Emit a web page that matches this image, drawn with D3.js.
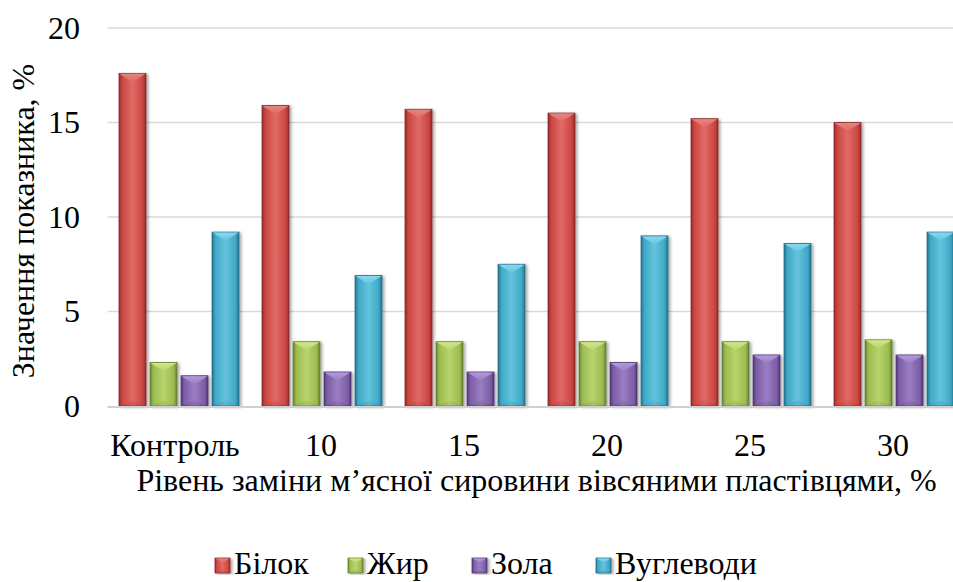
<!DOCTYPE html>
<html>
<head>
<meta charset="utf-8">
<script src="https://cdn.jsdelivr.net/npm/d3@7"></script>
<style>
  html, body { margin: 0; padding: 0; background: #fff; }
  svg { display: block; }
</style>
</head>
<body>
<svg id="chart" width="953" height="582"></svg>
<script>
// Composition of the product by replacement level
const categories = ["Контроль", "10", "15", "20", "25", "30"];
const seriesNames = ["Білок", "Жир", "Зола", "Вуглеводи"];
const protein = [17.6, 15.9, 15.7, 15.5, 15.2, 15.0];
const fat     = [2.3, 3.4, 3.4, 3.4, 3.4, 3.5];
const ash     = [1.6, 1.8, 1.8, 2.3, 2.7, 2.7];
const carbs   = [9.2, 6.9, 7.5, 9.0, 8.6, 9.2];
const yTicks  = [0, 5, 10, 15, 20];
const seriesValues = [protein, fat, ash, carbs];
const colors = {
  "Білок":     { base: "#cc4642", light: "#e06a66", dark: "#8f2b28", top: "#e58a86" },
  "Жир":       { base: "#9bbb4f", light: "#b8d46e", dark: "#66802f", top: "#d4ea8c" },
  "Зола":      { base: "#7d5ea6", light: "#9a7dc2", dark: "#4f3673", top: "#b79ee0" },
  "Вуглеводи": { base: "#3fa8c7", light: "#64c3dd", dark: "#22708a", top: "#8fdcf0" }
};
const FONT = "'Liberation Serif', 'Times New Roman', 'DejaVu Serif', serif";
const FONT_SIZE = "32px";

const svg = d3.select("#chart");
const margin = { left: 107.5, right: -12.5, top: 28, bottom: 176 };
const W = 953, H = 582;
const plotRight = W - margin.right;
const plotBottom = H - margin.bottom;

function label(sel) {
  return sel.attr("fill", "#000")
    .style("font-family", FONT).style("font-size", FONT_SIZE);
}

const x0 = d3.scaleBand().domain(categories)
  .range([margin.left, plotRight]).paddingInner(0.161).paddingOuter(0.0805);
const x1 = d3.scaleBand().domain(seriesNames)
  .range([0, x0.bandwidth()]).paddingInner(0.13);
const y = d3.scaleLinear().domain([0, 20]).range([plotBottom, margin.top]);

// gradients for the bevelled bars
const defs = svg.append("defs");
seriesNames.forEach((s, i) => {
  const c = colors[s];
  const g = defs.append("linearGradient").attr("id", "grad" + i)
    .attr("x1", "0").attr("x2", "1").attr("y1", "0").attr("y2", "0");
  g.append("stop").attr("offset", "0%").attr("stop-color", c.dark);
  g.append("stop").attr("offset", "12%").attr("stop-color", c.base);
  g.append("stop").attr("offset", "50%").attr("stop-color", c.light);
  g.append("stop").attr("offset", "88%").attr("stop-color", c.base);
  g.append("stop").attr("offset", "100%").attr("stop-color", c.dark);
  const t = defs.append("linearGradient").attr("id", "top" + i)
    .attr("x1", "0").attr("x2", "0").attr("y1", "0").attr("y2", "1");
  t.append("stop").attr("offset", "0%").attr("stop-color", c.top);
  t.append("stop").attr("offset", "100%").attr("stop-color", c.light);
});
const shadow = defs.append("filter").attr("id", "shadow")
  .attr("x", "-20%").attr("y", "-5%").attr("width", "150%").attr("height", "115%");
shadow.append("feGaussianBlur").attr("in", "SourceAlpha").attr("stdDeviation", 1.5);
shadow.append("feOffset").attr("dx", 1.5).attr("dy", 1).attr("result", "off");
shadow.append("feComponentTransfer").append("feFuncA").attr("type", "linear").attr("slope", 0.35);
const merge = shadow.append("feMerge");
merge.append("feMergeNode");
merge.append("feMergeNode").attr("in", "SourceGraphic");

// gridlines
svg.append("g").selectAll("line").data(yTicks.filter(d => d > 0)).join("line")
  .attr("x1", margin.left).attr("x2", plotRight)
  .attr("y1", d => y(d)).attr("y2", d => y(d))
  .attr("stroke", "#d9d9d9").attr("stroke-width", 1.5);

// y tick labels
label(svg.append("g").selectAll("text").data(yTicks).join("text"))
  .attr("x", 80).attr("y", d => y(d)).attr("dy", "0.34em")
  .attr("text-anchor", "end")
  .text(d => d);

// bars
function drawBar(g, x, yTop, w, h, i) {
  g.append("rect").attr("x", x).attr("y", yTop).attr("width", w).attr("height", h)
    .attr("fill", `url(#grad${i})`).attr("stroke", colors[seriesNames[i]].dark)
    .attr("stroke-width", 0.8).attr("filter", "url(#shadow)");
  const bev = Math.min(w * 0.32, h * 0.5);
  g.append("path")
    .attr("d", `M${x + 0.5},${yTop + 0.5} L${x + w - 0.5},${yTop + 0.5} L${x + w / 2},${yTop + bev} Z`)
    .attr("fill", `url(#top${i})`).attr("opacity", 0.9);
  g.append("path")
    .attr("d", `M${x + 0.5},${yTop + h - 0.5} L${x + w - 0.5},${yTop + h - 0.5} L${x + w / 2},${yTop + h - bev * 0.6} Z`)
    .attr("fill", colors[seriesNames[i]].dark).attr("opacity", 0.15);
}

const bars = svg.append("g");
categories.forEach((cat, ci) => {
  seriesNames.forEach((s, si) => {
    const v = seriesValues[si][ci];
    const bx = x0(cat) + x1(s);
    drawBar(bars, bx, y(v), x1.bandwidth(), y(0) - y(v), si);
  });
});

// baseline
svg.append("line").attr("x1", margin.left).attr("x2", plotRight)
  .attr("y1", y(0) + 1).attr("y2", y(0) + 1)
  .attr("stroke", "#d0d0d0").attr("stroke-width", 2);

// category labels
label(svg.append("g").selectAll("text").data(categories).join("text"))
  .attr("x", (d, i) => x0(d) + x0.bandwidth() / 2 - (i === 0 ? 4 : 1))
  .attr("y", 456).attr("text-anchor", "middle")
  .text(d => d);

// axis titles
label(svg.append("text")).attr("x", (margin.left + plotRight) / 2).attr("y", 491)
  .attr("text-anchor", "middle")
  .text("Рівень заміни м’ясної сировини вівсяними пластівцями, %");
label(svg.append("text"))
  .attr("transform", `translate(34,${(margin.top + plotBottom) / 2 + 4}) rotate(-90)`)
  .attr("text-anchor", "middle")
  .text("Значення показника, %");

// legend
const legendX = [215, 348, 472, 596];
const legend = svg.append("g");
seriesNames.forEach((s, i) => {
  const lx = legendX[i], ly = 558;
  drawBar(legend, lx, ly, 15, 15, i);
  label(legend.append("text")).attr("x", lx + 19).attr("y", 574).text(s);
});
</script>
</body>
</html>
